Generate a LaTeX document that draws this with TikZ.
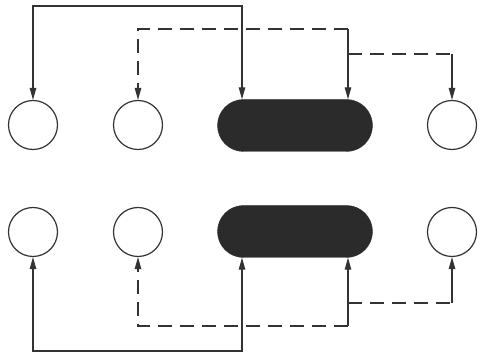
\documentclass[tikz,border=0pt]{standalone}
\usetikzlibrary{arrows.meta,shapes.misc}
\definecolor{ln}{HTML}{333333}
\definecolor{pill}{HTML}{2B2B2B}
\begin{document}
\begin{tikzpicture}[x=1pt,y=-1pt,
  tip/.tip={Triangle[length=12pt,width=6.5pt]},
  ring/.style={circle,draw=ln,line width=1.2pt,minimum size=49pt,inner sep=0pt},
  blob/.style={rounded rectangle,fill=pill,draw=pill,minimum width=155pt,minimum height=52pt,inner sep=0pt},
  conn/.style={draw=ln,line width=1.2pt,-tip},
  both/.style={draw=ln,line width=1.2pt,tip-tip},
  plain/.style={draw=ln,line width=1.2pt},
  dsh/.style={dash pattern=on 14pt off 8pt}]
\useasboundingbox (0,0) rectangle (488,355);
% top row
\node[ring] (c1) at (33,125) {};
\node[ring] (c2) at (138,125) {};
\node[blob] (p1) at (295,125.5) {};
\node[ring] (c4) at (452,125) {};
% bottom row
\node[ring] (d1) at (33,232) {};
\node[ring] (d2) at (138,232) {};
\node[blob] (p2) at (295,231.5) {};
\node[ring] (d4) at (452,232) {};
% top connectors
\coordinate (ts) at (242,6);
\coordinate (td) at (348,29);
\coordinate (tb) at (348,54);
\draw[both] (c1.north) |- (ts) -- (ts |- p1.north);
\draw[conn,dsh] (td) -| (c2.north);
\draw[conn] (td) -- (td |- p1.north);
\draw[plain,dsh] (tb) -- (tb -| c4.north);
\draw[conn] (tb -| c4.north) -- (c4.north);
% bottom connectors
\coordinate (bs) at (242,351);
\coordinate (bd) at (348,326);
\coordinate (bb) at (348,303);
\draw[both] (d1.south) |- (bs) -- (bs |- p2.south);
\draw[conn,dsh] (bd) -| (d2.south);
\draw[conn] (bd) -- (bd |- p2.south);
\draw[plain,dsh] (bb) -- (bb -| d4.south);
\draw[conn] (bb -| d4.south) -- (d4.south);
\end{tikzpicture}
\end{document}
